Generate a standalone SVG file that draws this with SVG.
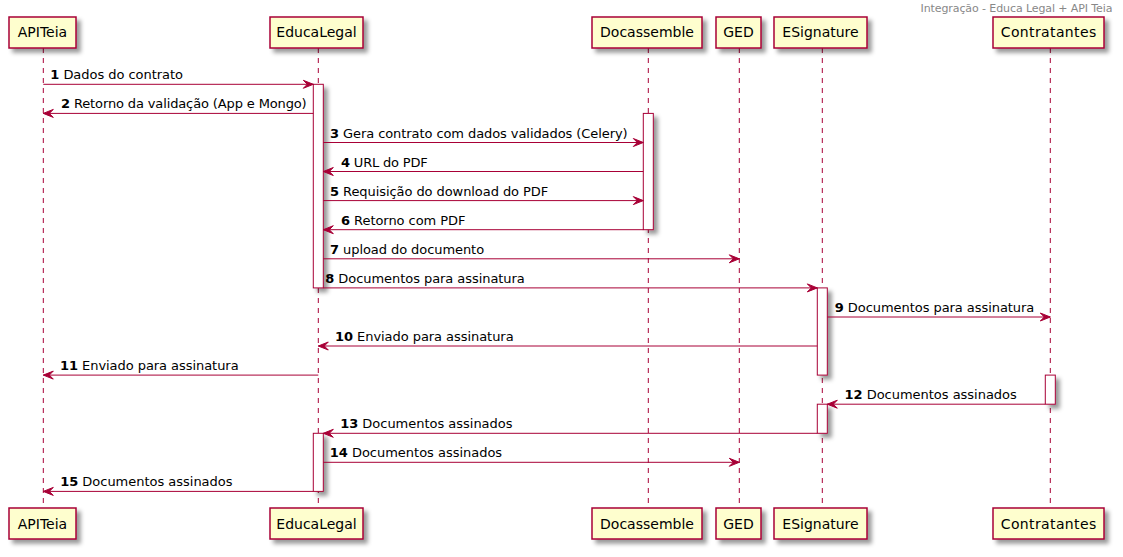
<svg xmlns="http://www.w3.org/2000/svg" width="1123" height="557" viewBox="0 0 1123 557">
<defs>
<filter id="sh" x="-1" y="-1" width="300%" height="300%">
<feGaussianBlur result="b1" stdDeviation="2"/>
<feColorMatrix in="b1" result="b2" type="matrix" values="0 0 0 0 0 0 0 0 0 0 0 0 0 0 0 0 0 0 .4 0"/>
<feOffset dx="4" dy="4" in="b2" result="b3"/>
<feBlend in="SourceGraphic" in2="b3" mode="normal"/>
</filter>
<marker id="ah" markerUnits="userSpaceOnUse" markerWidth="12" markerHeight="10" refX="10" refY="4" orient="auto" overflow="visible">
<path d="M0,0 L10,4 L0,8 L4,4 Z" fill="#A80036" stroke="#A80036" stroke-width="1"/>
</marker>
</defs>
<style>
.life{stroke:#A80036;stroke-width:1;stroke-dasharray:5,5;fill:none}
.pbox{fill:#FEFECE;stroke:#A80036;stroke-width:1.5;filter:url(#sh)}
.ptxt{font-family:"DejaVu Sans",sans-serif;font-size:14px;fill:#000000;text-anchor:middle}
.act{fill:#FFFFFF;stroke:#A80036;stroke-width:1;filter:url(#sh)}
.msg{stroke:#A80036;stroke-width:1;fill:none;marker-end:url(#ah)}
.mtxt{font-family:"DejaVu Sans",sans-serif;font-size:13px;fill:#000000}
.num{font-weight:bold}
.hdr{font-family:"DejaVu Sans",sans-serif;font-size:11px;fill:#888888;text-anchor:end}
</style>
<rect width="1123" height="557" fill="#FFFFFF"/>
<text class="hdr" x="1112.5" y="11.5" textLength="192">Integração - Educa Legal + API Teia</text>

<g id="lifelines">
<line class="life" x1="43.3" y1="48" x2="43.3" y2="508"/>
<line class="life" x1="318.3" y1="48" x2="318.3" y2="508"/>
<line class="life" x1="648.3" y1="48" x2="648.3" y2="508"/>
<line class="life" x1="739.3" y1="48" x2="739.3" y2="508"/>
<line class="life" x1="822.3" y1="48" x2="822.3" y2="508"/>
<line class="life" x1="1050.3" y1="48" x2="1050.3" y2="508"/>
</g>

<g id="APITeia">
<rect class="pbox" x="9" y="17" width="67" height="31"/>
<text class="ptxt" x="42.5" y="37">APITeia</text>
<rect class="pbox" x="9" y="508" width="67" height="31"/>
<text class="ptxt" x="42.5" y="528.5">APITeia</text>
</g>
<g id="EducaLegal">
<rect class="pbox" x="270" y="17" width="93" height="31"/>
<text class="ptxt" x="316.5" y="37">EducaLegal</text>
<rect class="pbox" x="270" y="508" width="93" height="31"/>
<text class="ptxt" x="316.5" y="528.5">EducaLegal</text>
<rect class="act" x="313.3" y="84.3" width="10" height="203.6"/>
<rect class="act" x="313.3" y="433.3" width="10" height="58.1"/>
</g>
<g id="Docassemble">
<rect class="pbox" x="592" y="17" width="110" height="31"/>
<text class="ptxt" x="647" y="37">Docassemble</text>
<rect class="pbox" x="592" y="508" width="110" height="31"/>
<text class="ptxt" x="647" y="528.5">Docassemble</text>
<rect class="act" x="643.3" y="113.4" width="10" height="116.3"/>
</g>
<g id="GED">
<rect class="pbox" x="716" y="17" width="45" height="31"/>
<text class="ptxt" x="738.5" y="37">GED</text>
<rect class="pbox" x="716" y="508" width="45" height="31"/>
<text class="ptxt" x="738.5" y="528.5">GED</text>
</g>
<g id="ESignature">
<rect class="pbox" x="774" y="17" width="93" height="31"/>
<text class="ptxt" x="820.5" y="37">ESignature</text>
<rect class="pbox" x="774" y="508" width="93" height="31"/>
<text class="ptxt" x="820.5" y="528.5">ESignature</text>
<rect class="act" x="817.3" y="287.9" width="10" height="87.2"/>
<rect class="act" x="817.3" y="404.2" width="10" height="29.1"/>
</g>
<g id="Contratantes">
<rect class="pbox" x="993" y="17" width="111" height="31"/>
<text class="ptxt" x="1048.5" y="37" textLength="95.5">Contratantes</text>
<rect class="pbox" x="993" y="508" width="111" height="31"/>
<text class="ptxt" x="1048.5" y="528.5" textLength="95.5">Contratantes</text>
<rect class="act" x="1045.3" y="375.1" width="10" height="29.1"/>
</g>

<g id="connectors">
<line class="msg" x1="43.3" y1="84.3" x2="313.3" y2="84.3"/>
<line class="msg" x1="313.3" y1="113.4" x2="43.3" y2="113.4"/>
<line class="msg" x1="323.3" y1="142.5" x2="643.3" y2="142.5"/>
<line class="msg" x1="643.3" y1="171.5" x2="323.3" y2="171.5"/>
<line class="msg" x1="323.3" y1="200.6" x2="643.3" y2="200.6"/>
<line class="msg" x1="643.3" y1="229.7" x2="323.3" y2="229.7"/>
<line class="msg" x1="323.3" y1="258.8" x2="739.3" y2="258.8"/>
<line class="msg" x1="323.3" y1="287.9" x2="817.3" y2="287.9"/>
<line class="msg" x1="827.3" y1="317" x2="1050.3" y2="317"/>
<line class="msg" x1="817.3" y1="346" x2="318.3" y2="346"/>
<line class="msg" x1="318.3" y1="375.1" x2="43.3" y2="375.1"/>
<line class="msg" x1="1045.3" y1="404.2" x2="827.3" y2="404.2"/>
<line class="msg" x1="817.3" y1="433.3" x2="323.3" y2="433.3"/>
<line class="msg" x1="323.3" y1="462.3" x2="739.3" y2="462.3"/>
<line class="msg" x1="313.3" y1="491.4" x2="43.3" y2="491.4"/>

<text class="mtxt" x="50.3" y="79.3" textLength="132.7"><tspan class="num">1</tspan> Dados do contrato</text>
<text class="mtxt" x="61" y="108.4" textLength="245.7"><tspan class="num">2</tspan> Retorno da validação (App e Mongo)</text>
<text class="mtxt" x="330" y="137.5" textLength="297.6"><tspan class="num">3</tspan> Gera contrato com dados validados (Celery)</text>
<text class="mtxt" x="341" y="166.5" textLength="86.8"><tspan class="num">4</tspan> URL do PDF</text>
<text class="mtxt" x="330" y="195.6" textLength="218.2"><tspan class="num">5</tspan> Requisição do download do PDF</text>
<text class="mtxt" x="341" y="224.7" textLength="124.5"><tspan class="num">6</tspan> Retorno com PDF</text>
<text class="mtxt" x="330" y="253.8" textLength="154.1"><tspan class="num">7</tspan> upload do documento</text>
<text class="mtxt" x="325.3" y="282.9" textLength="199.5"><tspan class="num">8</tspan> Documentos para assinatura</text>
<text class="mtxt" x="834.8" y="312" textLength="199.5"><tspan class="num">9</tspan> Documentos para assinatura</text>
<text class="mtxt" x="335" y="341" textLength="178.6"><tspan class="num">10</tspan> Enviado para assinatura</text>
<text class="mtxt" x="60" y="370.1" textLength="178.6"><tspan class="num">11</tspan> Enviado para assinatura</text>
<text class="mtxt" x="844.5" y="399.2" textLength="172.3"><tspan class="num">12</tspan> Documentos assinados</text>
<text class="mtxt" x="340.2" y="428.3" textLength="172.3"><tspan class="num">13</tspan> Documentos assinados</text>
<text class="mtxt" x="329.8" y="457.3" textLength="172.3"><tspan class="num">14</tspan> Documentos assinados</text>
<text class="mtxt" x="60.2" y="486.4" textLength="172.3"><tspan class="num">15</tspan> Documentos assinados</text>
</g>
</svg>
